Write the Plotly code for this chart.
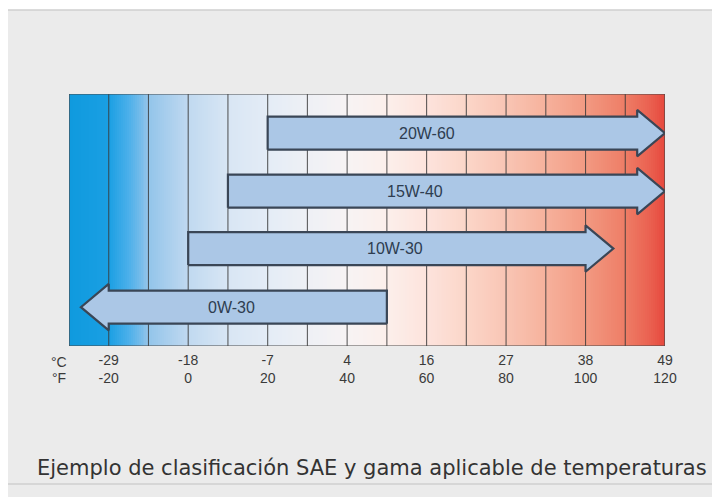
import numpy as np
import plotly.graph_objects as go

# ---- data ----
grades = ["20W-60", "15W-40", "10W-30", "0W-30"]
tail_f = [20, 10, 0, 50]          # arrow tail (°F)
tip_f = [120, 120, 107, -27]      # arrow tip (°F)
row_y = [3.67, 2.67, 1.68, 0.67]  # arrow row
label_x_f = [60, 57, 52, 11]

tick_f = [-20, 0, 20, 40, 60, 80, 100, 120]
tick_c = [-29, -18, -7, 4, 16, 27, 38, 49]

# ---- style ----
X_MIN, X_MAX = -30, 120
Y_MAX = 4.345
BODY_H = 0.285
HEAD_H = 0.40
HEAD_L = 7.0

grad_pos = [-30, -20, -15, -10, 0, 10, 20, 30, 40, 50, 60, 70, 80, 90, 100, 110, 116, 120]
grad_col = ["#0f9ade", "#1a9fe3", "#4cb0ea", "#92c4ea", "#c0d9f0", "#d8e6f4",
            "#e4ecf6", "#eef0f5", "#f7f3f4", "#fcefeb", "#fde3dc", "#fbd6c9",
            "#f9c5b4", "#f6b19c", "#f29a82", "#ee7d66", "#ea6251", "#e6483d"]
colorscale = [[(p - X_MIN) / (X_MAX - X_MIN), c] for p, c in zip(grad_pos, grad_col)]

fig = go.Figure()

# background gradient
xs = np.arange(X_MIN + 0.25, X_MAX, 0.5)
fig.add_trace(go.Heatmap(x=xs, y=[0, Y_MAX], z=[xs, xs], colorscale=colorscale,
                         zmin=X_MIN, zmax=X_MAX, showscale=False, hoverinfo="skip"))

# vertical column lines
gx, gy = [], []
for v in range(X_MIN + 10, X_MAX, 10):
    gx += [v, v, None]
    gy += [0, Y_MAX, None]
fig.add_trace(go.Scatter(x=gx, y=gy, mode="lines", line=dict(color="rgba(55,55,55,0.8)", width=1.1),
                         hoverinfo="skip", showlegend=False))

# arrows
for g, t, p, y, lx in zip(grades, tail_f, tip_f, row_y, label_x_f):
    d = 1 if p > t else -1
    hb = p - d * HEAD_L
    px = [t, hb, hb, p, hb, hb, t, t]
    py = [y - BODY_H, y - BODY_H, y - HEAD_H, y, y + HEAD_H, y + BODY_H, y + BODY_H, y - BODY_H]
    fig.add_trace(go.Scatter(x=px, y=py, mode="lines", fill="toself", fillcolor="#abc7e6",
                             line=dict(color="#3a4656", width=2.2), hoverinfo="skip", showlegend=False))
    fig.add_annotation(x=lx, y=y, text=g, showarrow=False,
                       font=dict(family="Liberation Sans", size=16, color="#2e3d50"))

# page is offset by 8px body margin
OFF = 8
W, H = 720 - OFF, 497 - OFF
L, R, T, B = 69 - OFF, 55, 94 - OFF, 151
pw, ph = W - L - R, H - T - B

def px2x(p):
    return (p - OFF - L) / pw

def px2y(p):
    return (H - B - (p - OFF)) / ph

# unit labels
for txt, yy in (("°C", 362), ("°F", 378)):
    fig.add_annotation(xref="paper", yref="paper", x=px2x(59), y=px2y(yy), text=txt,
                       showarrow=False, xanchor="center", yanchor="middle",
                       font=dict(family="Liberation Sans", size=14, color="#3a3a3a"))

# caption
fig.add_annotation(xref="paper", yref="paper", x=px2x(372), y=px2y(468),
                   xanchor="center", yanchor="middle",
                   text="Ejemplo de clasificación SAE y gama aplicable de temperaturas",
                   showarrow=False, font=dict(family="DejaVu Sans", size=21, color="#333333"))

shapes = [
    # white top strip
    dict(type="rect", xref="paper", yref="paper", x0=px2x(-5), x1=px2x(725), y0=px2y(10), y1=px2y(-5),
         fillcolor="white", line=dict(width=0), layer="below"),
    # panel frame
    dict(type="rect", xref="paper", yref="paper", x0=px2x(6), x1=px2x(714), y0=px2y(484), y1=px2y(10),
         fillcolor="rgba(0,0,0,0)", line=dict(color="#d0d0d0", width=1.5), layer="below"),
    # plot border
    dict(type="rect", xref="x", yref="y", x0=X_MIN, x1=X_MAX, y0=0, y1=Y_MAX,
         fillcolor="rgba(0,0,0,0)", line=dict(color="#4a4a4a", width=1.2), layer="above"),
]

fig.update_layout(
    width=W, height=H, margin=dict(l=L, r=R, t=T, b=B),
    paper_bgcolor="#ebebeb", plot_bgcolor="#ebebeb",
    shapes=shapes, showlegend=False,
    xaxis=dict(range=[X_MIN, X_MAX], showgrid=False, zeroline=False, showline=False,
               tickvals=tick_f, ticktext=[f"{c}<br>{f}" for c, f in zip(tick_c, tick_f)],
               ticks="", ticklabelstandoff=4,
               tickfont=dict(family="Liberation Sans", size=14, color="#3a3a3a")),
    yaxis=dict(range=[0, Y_MAX], visible=False, fixedrange=True),
)

fig.write_html("out.html")
